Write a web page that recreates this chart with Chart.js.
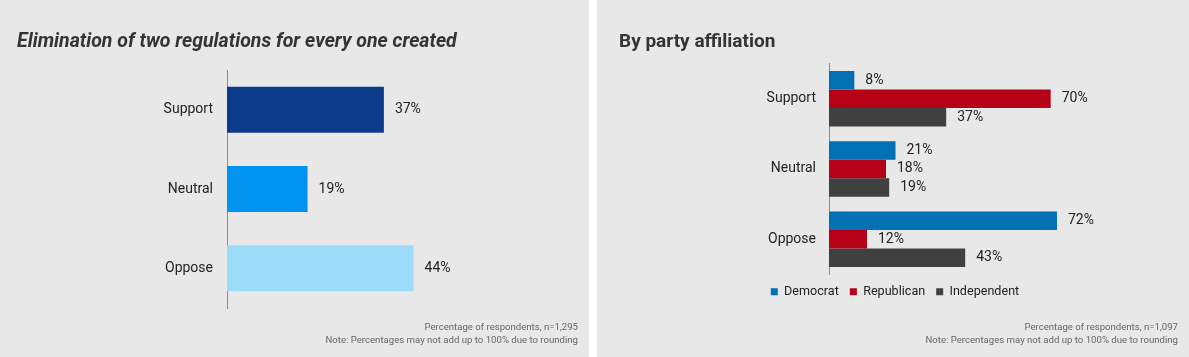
<!DOCTYPE html>
<html><head><meta charset="utf-8">
<script src="https://cdn.jsdelivr.net/npm/chart.js@4"></script>
<style>
html,body{margin:0;padding:0;background:#fff;width:1189px;height:357px;overflow:hidden;font-family:Roboto,sans-serif;}
.panel{position:absolute;top:0;height:357px;background:#e8e8e8;}
#p1{left:0;width:589px}
#p2{left:597px;width:592px}
canvas{position:absolute;left:0;top:0}
.title{position:absolute;font-weight:700;font-size:19px;line-height:19px;color:#333;white-space:nowrap;top:31px}
.note{position:absolute;font-size:9.6px;line-height:13.3px;color:#666;text-align:right;top:320px;white-space:nowrap}
</style>
</head><body>
<div class="panel" id="p1">
  <canvas id="c1" width="589" height="357"></canvas>
  <div class="title" style="left:17px;font-style:italic;font-size:19.5px">Elimination of two regulations for every one created</div>
  <div class="note" style="right:11px">Percentage of respondents, n=1,295<br>Note: Percentages may not add up to 100% due to rounding</div>
</div>
<div class="panel" id="p2">
  <canvas id="c2" width="592" height="357"></canvas>
  <div class="title" style="left:22px">By party affiliation</div>
  <div class="note" style="right:11px">Percentage of respondents, n=1,097<br>Note: Percentages may not add up to 100% due to rounding</div>
</div>
<script>
const categories = ['Support', 'Neutral', 'Oppose'];
const overallValues = [37, 19, 44];
const seriesNames = ['Democrat', 'Republican', 'Independent'];
const democratValues = [8, 21, 72];
const republicanValues = [70, 18, 12];
const independentValues = [37, 19, 43];

const valueLabels = {
  id: 'valueLabels',
  afterDatasetsDraw(chart) {
    const ctx = chart.ctx;
    ctx.save();
    ctx.font = '14px Roboto';
    ctx.fillStyle = '#222';
    ctx.textBaseline = 'middle';
    ctx.textAlign = 'left';
    chart.data.datasets.forEach((ds, i) => {
      chart.getDatasetMeta(i).data.forEach((el, j) => {
        ctx.fillText(ds.data[j] + '%', el.x + 11, el.y);
      });
    });
    ctx.restore();
  }
};

Chart.defaults.font.family = 'Roboto';
Chart.defaults.color = '#222';

new Chart(document.getElementById('c1'), {
  type: 'bar',
  data: {
    labels: categories,
    datasets: [{
      data: overallValues,
      backgroundColor: ['#0b3b8a', '#0093f0', '#9ddcf9'],
      borderWidth: 0,
      barPercentage: 0.58,
      categoryPercentage: 1
    }]
  },
  options: {
    indexAxis: 'y',
    responsive: false,
    animation: false,
    layout: { padding: { top: 70, bottom: 49, left: 0, right: 44 } },
    plugins: { legend: { display: false }, tooltip: { enabled: false } },
    scales: {
      x: { display: false, min: 0, max: 75 },
      y: {
        grid: { display: false, drawTicks: false },
        border: { display: true, color: '#8a8a8a', width: 1 },
        ticks: { padding: 14, color: '#222', font: { size: 14 } },
        afterFit(s) { s.width = 227; }
      }
    }
  },
  plugins: [valueLabels]
});

new Chart(document.getElementById('c2'), {
  type: 'bar',
  data: {
    labels: categories,
    datasets: [
      { label: seriesNames[0], data: democratValues, backgroundColor: '#0171b3' },
      { label: seriesNames[1], data: republicanValues, backgroundColor: '#b60018' },
      { label: seriesNames[2], data: independentValues, backgroundColor: '#404040' }
    ].map(d => Object.assign(d, { borderWidth: 0, barPercentage: 1, categoryPercentage: 0.79 }))
  },
  options: {
    indexAxis: 'y',
    responsive: false,
    animation: false,
    layout: { padding: { top: 63.5, bottom: 49, left: 79, right: 75 } },
    plugins: {
      tooltip: { enabled: false },
      legend: {
        position: 'bottom',
        labels: { boxWidth: 7, boxHeight: 7, padding: 11, color: '#222', font: { size: 12.6 } }
      }
    },
    scales: {
      x: { display: false, min: 0, max: 90 },
      y: {
        grid: { display: false, drawTicks: false },
        border: { display: true, color: '#8a8a8a', width: 1 },
        ticks: { padding: 13, color: '#222', font: { size: 14 } },
        afterFit(s) { s.width = 153; }
      }
    }
  },
  plugins: [valueLabels]
});
</script>
</body></html>
